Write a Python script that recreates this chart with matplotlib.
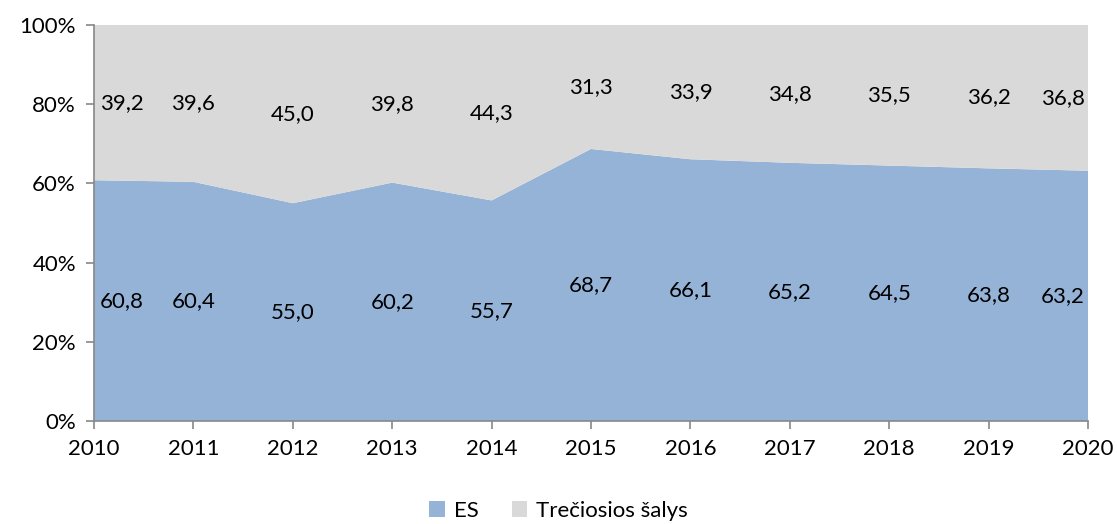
import numpy as np
import matplotlib.pyplot as plt
from matplotlib.patches import Patch

# duomenys
metai = [2010, 2011, 2012, 2013, 2014, 2015, 2016, 2017, 2018, 2019, 2020]
es = [60.8, 60.4, 55.0, 60.2, 55.7, 68.7, 66.1, 65.2, 64.5, 63.8, 63.2]
trecios = [39.2, 39.6, 45.0, 39.8, 44.3, 31.3, 33.9, 34.8, 35.5, 36.2, 36.8]
serijos = ['ES', 'Trečiosios šalys']
spalvos = ['#95B3D7', '#D9D9D9']

plt.rcParams['font.family'] = ['Lato', 'DejaVu Sans']

fig = plt.figure(figsize=(11.17, 5.24), dpi=100)
ax = fig.add_axes([94/1117, 1 - 421/524, (1088 - 94)/1117, (421 - 25)/524])

x = np.array(metai)
es_a = np.array(es)
tr_a = np.array(trecios)
suma = es_a + tr_a
es_p = es_a / suma * 100
tr_p = tr_a / suma * 100

ax.stackplot(x, es_p, tr_p, colors=spalvos, linewidth=0)

# reikšmių etiketės
for i, m in enumerate(metai):
    ha = 'center'
    xx = m
    if i == 0:
        ha = 'left'
        xx = m + 0.06
    elif i == len(metai) - 1:
        ha = 'right'
        xx = m - 0.03
    ax.text(xx, es_p[i] / 2, f'{es[i]:.1f}'.replace('.', ','), ha=ha, va='center', fontsize=16)
    ax.text(xx, es_p[i] + tr_p[i] / 2, f'{trecios[i]:.1f}'.replace('.', ','), ha=ha, va='center', fontsize=16)

ax.set_xlim(2010, 2020)
ax.set_ylim(0, 100)
ax.set_xticks(metai)
ax.set_xticklabels([str(m) for m in metai])
ax.set_yticks(range(0, 101, 20))
ax.set_yticklabels([f'{v}%' for v in range(0, 101, 20)])
ax.tick_params(axis='both', labelsize=16, color='#888888', length=6, width=1.2)
ax.tick_params(axis='x', pad=7)
ax.tick_params(axis='y', pad=7)
for s in ['top', 'right']:
    ax.spines[s].set_visible(False)
for s in ['left', 'bottom']:
    ax.spines[s].set_color('#888888')
    ax.spines[s].set_linewidth(1.2)

rankenos = [Patch(facecolor=c, edgecolor='none') for c in spalvos]
fig.legend(rankenos, serijos, loc='center', bbox_to_anchor=(0.5, 1 - 511/524), ncol=2,
           frameon=False, fontsize=16, handlelength=0.7, handleheight=0.7,
           handletextpad=0.4, columnspacing=1.5)

fig.savefig('out.png', dpi=100)
